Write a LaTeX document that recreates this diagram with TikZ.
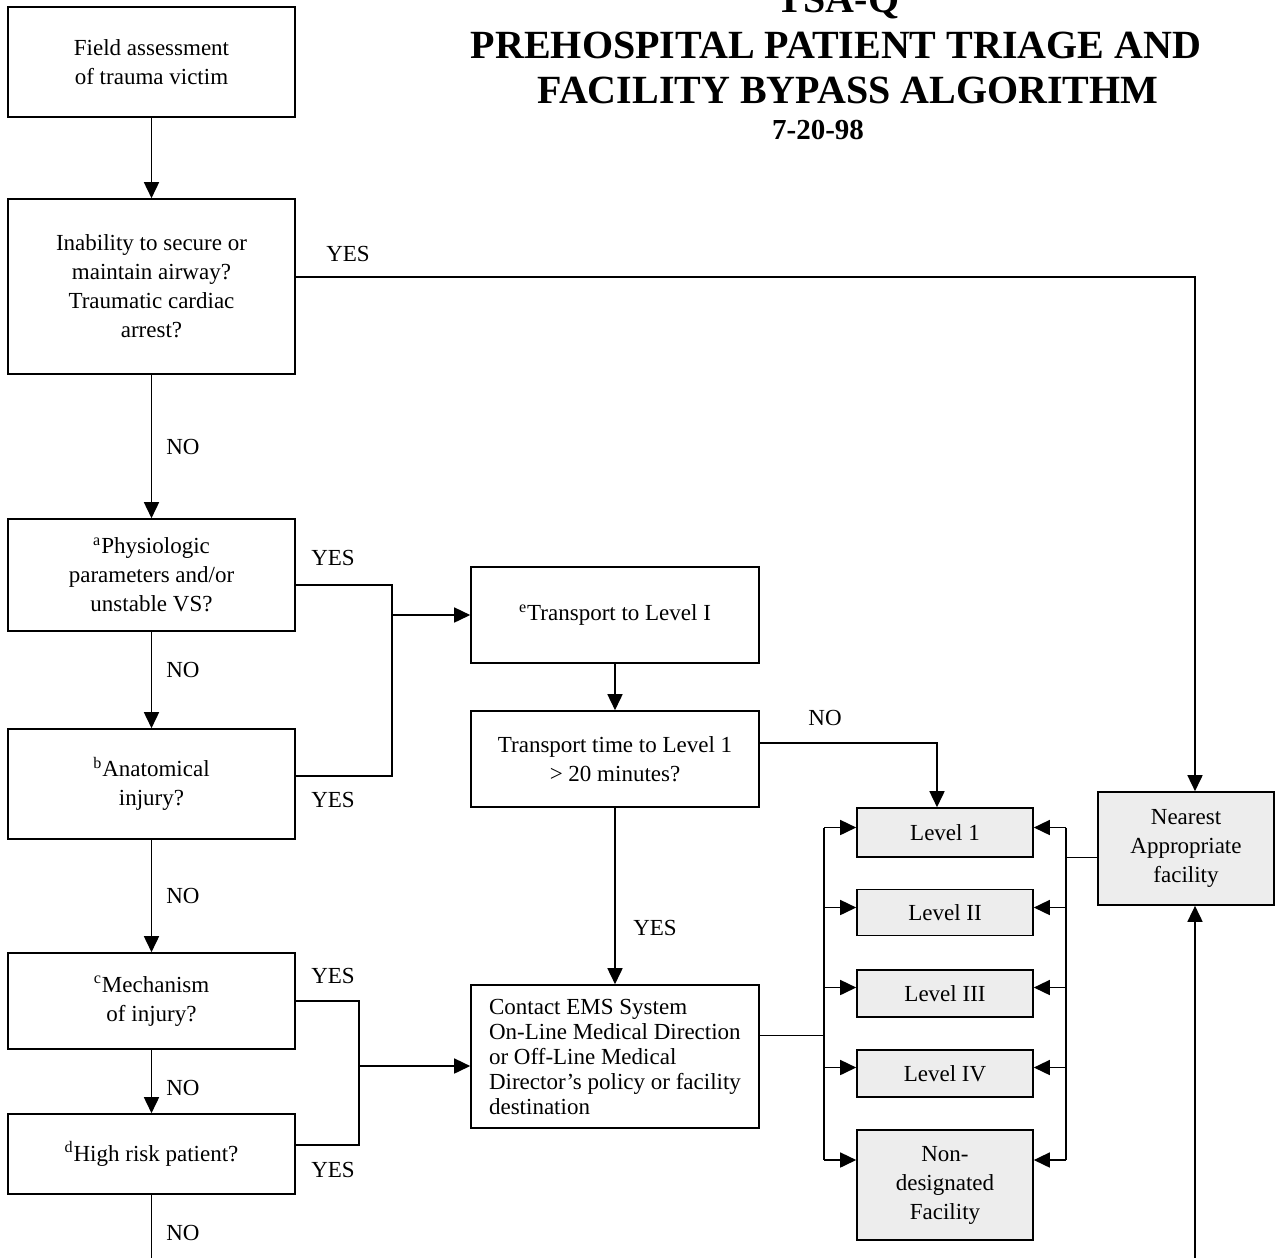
\documentclass[tikz,border=0pt]{standalone}
\usepackage{fontspec}
\setmainfont{Liberation Serif}
\usetikzlibrary{arrows.meta,positioning,calc}

\newcommand{\boxfont}{\fontsize{11.5}{14.5}\selectfont}
\newcommand{\headfont}{\fontsize{20}{23}\selectfont\bfseries}

\tikzset{
  box/.style = {draw, line width=0.8pt, align=center, inner sep=0pt, font=\boxfont},
  leftbox/.style = {box, minimum width=143.5pt},
  midbox/.style = {box, minimum width=144pt},
  levelbox/.style = {box, fill=black!7, minimum width=88pt},
  wire/.style = {line width=0.8pt},
  arr/.style = {wire, -{Triangle[length=8pt, width=7.5pt]}},
  lbl/.style = {font=\boxfont, inner sep=0pt}
}

\begin{document}
\begin{tikzpicture}[x=0.5pt, y=-0.5pt]
\useasboundingbox (0,0) rectangle (1277,1258);

% title
\node[font=\headfont, anchor=base] (tsa) at (838,12) {TSA-Q};
\node[font=\headfont, anchor=base] (title1) at (836,58) {PREHOSPITAL PATIENT TRIAGE AND};
\node[font=\headfont, anchor=base] (title2) at (848,103) {FACILITY BYPASS ALGORITHM};
\node[font=\fontsize{14.5}{16}\selectfont\bfseries, anchor=base] (date) at (818,139) {7-20-98};

% left column
\node[leftbox, minimum height=55pt] (field) at (151.5,62) {Field assessment\\of trauma victim};
\node[leftbox, minimum height=87.5pt] (inab) at (151.5,286.5) {Inability to secure or\\maintain airway?\\Traumatic cardiac\\arrest?};
\node[leftbox, minimum height=56pt] (phys) at (151.5,575) {\textsuperscript{a}Physiologic\\parameters and/or\\unstable VS?};
\node[leftbox, minimum height=55pt] (anat) at (151.5,784) {\textsuperscript{b}Anatomical\\injury?};
\node[leftbox, minimum height=48pt] (mech) at (151.5,1001) {\textsuperscript{c}Mechanism\\of injury?};
\node[leftbox, minimum height=40pt] (risk) at (151.5,1154) {\textsuperscript{d}High risk patient?};

% middle column
\node[midbox, minimum height=48pt] (tlev) at (615,615) {\textsuperscript{e}Transport to Level I};
\node[midbox, minimum height=48pt] (ttime) at (615,759) {Transport time to Level 1\\> 20 minutes?};
\node[midbox, minimum height=71.5pt, font=\fontsize{11.5}{12.5}\selectfont, align=left] (contact) at (615,1056.5)
  {Contact EMS System\\On-Line Medical Direction\\or Off-Line Medical\\Director's policy or facility\\destination};

% facilities
\node[levelbox, minimum height=24.5pt] (lev1) at (945,832.5) {Level 1};
\node[levelbox, minimum height=23pt] (lev2) at (945,912.5) {Level II};
\node[levelbox, minimum height=23.5pt] (lev3) at (945,993.5) {Level III};
\node[levelbox, minimum height=23.5pt] (lev4) at (945,1073.5) {Level IV};
\node[levelbox, minimum height=55pt] (nond) at (945,1185) {Non-\\designated\\Facility};
\node[levelbox, minimum height=56.5pt] (near) at (1186,848.5) {Nearest\\Appropriate\\facility};

% labels
\node[lbl] (yes1) at (348,254) {YES};
\node[lbl] (no1) at (183,447) {NO};
\node[lbl] (yes2) at (333,558) {YES};
\node[lbl] (no2) at (183,670) {NO};
\node[lbl] (yes3) at (333,800) {YES};
\node[lbl] (no3) at (183,896) {NO};
\node[lbl] (yes4) at (333,976) {YES};
\node[lbl] (no4) at (183,1088) {NO};
\node[lbl] (yes5) at (333,1170) {YES};
\node[lbl] (no5) at (183,1233) {NO};
\node[lbl] (no6) at (825,718) {NO};
\node[lbl] (yes6) at (655,928) {YES};

% left column flow
\draw[arr] (field) -- (inab);
\draw[arr] (inab) -- (phys);
\draw[arr] (phys) -- (anat);
\draw[arr] (anat) -- (mech);
\draw[arr] (mech) -- (risk);
\coordinate (down) at (151.5,1258);
\draw[wire] (risk) -- (down);

% yes branches
\coordinate (ja) at (392,615);
\draw[wire] ([yshift=-5pt]phys.east) -| (ja) |- ([yshift=4pt]anat.east);
\draw[arr] (ja) -- (tlev);
\coordinate (jb) at (359,1066);
\draw[wire] (mech.east) -| (jb) |- ([yshift=4.5pt]risk.east);
\draw[arr] (jb) -- (contact.west |- jb);

% airway branch to nearest facility
\coordinate (ra) at (1195,277);
\coordinate (rb) at (1195,1258);
\draw[arr] ([yshift=4.75pt]inab.east) -- (ra) -- (near.north -| ra);
\draw[arr] (rb) -- (near.south -| rb);

% middle column flow
\draw[arr] (tlev) -- (ttime);
\draw[arr] (ttime) -- (contact);
\coordinate (nb) at (937,743);
\draw[arr] (ttime.east |- nb) -- (nb) -- (lev1.north -| nb);

% buses to the levels
\coordinate (lbus) at (824,0);
\coordinate (rbus) at (1066,0);
\foreach \n/\dy in {lev1/2.5, lev2/2.5, lev3/3, lev4/3, nond/12.5} {
  \coordinate (w\n) at ([yshift=\dy pt]\n.west);
  \coordinate (e\n) at ([yshift=\dy pt]\n.east);
  \draw[arr] (lbus |- w\n) -- (w\n);
  \draw[arr] (rbus |- e\n) -- (e\n);
}
\draw[wire] (lbus |- wlev1) -- (lbus |- wnond);
\draw[wire] (rbus |- elev1) -- (rbus |- enond);
\coordinate (ce) at ([yshift=10.5pt]contact.east);
\draw[wire] (ce) -- (lbus |- ce);
\coordinate (nw) at ([yshift=-4.5pt]near.west);
\draw[wire] (nw) -- (rbus |- nw);
\end{tikzpicture}
\end{document}
